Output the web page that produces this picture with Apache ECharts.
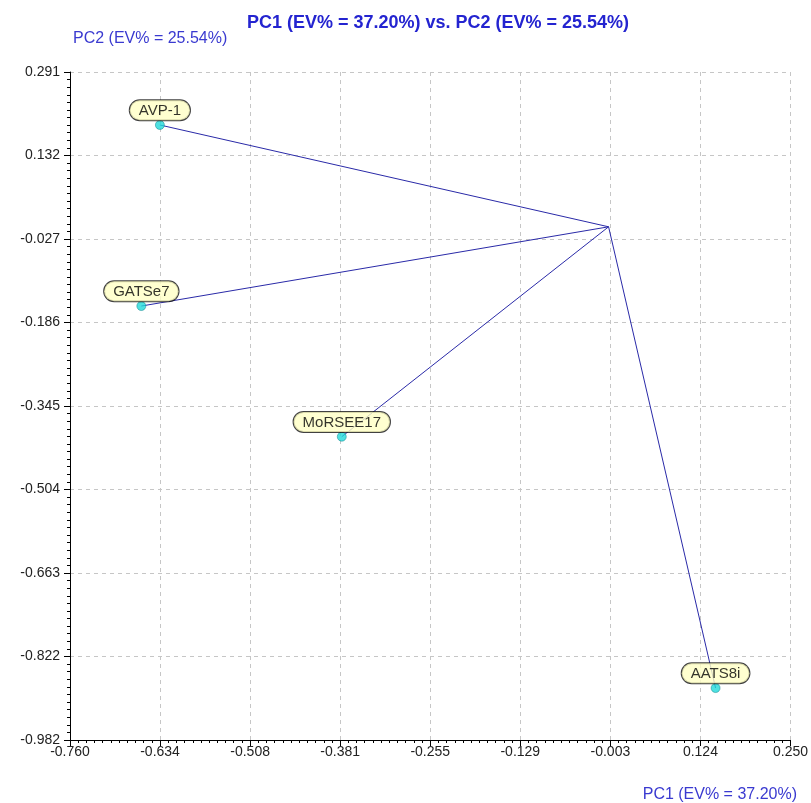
<!DOCTYPE html>
<html>
<head>
<meta charset="utf-8">
<script src="https://cdn.jsdelivr.net/npm/echarts@6/dist/echarts.min.js"></script>
<style>
  html, body { margin: 0; padding: 0; background: #fff; }
  #chart { width: 811px; height: 803px; }
</style>
</head>
<body>
<div id="chart"></div>
<script>
// PCA loadings: each variable drawn as a vector from the origin
const variables = ['AVP-1', 'GATSe7', 'MoRSEE17', 'AATS8i'];
const pc1 = [-0.634, -0.660, -0.379, 0.145];
const pc2 = [0.190, -0.155, -0.404, -0.883];
const origin = [-0.005, -0.004];

// Axis ranges and printed tick labels
const xMin = -0.760, xMax = 0.250;
const yMin = -0.982, yMax = 0.291;
const xTickLabels = ['-0.760', '-0.634', '-0.508', '-0.381', '-0.255', '-0.129', '-0.003', '0.124', '0.250'];
const yTickLabels = ['-0.982', '-0.822', '-0.663', '-0.504', '-0.345', '-0.186', '-0.027', '0.132', '0.291'];

const titleText = 'PC1 (EV% = 37.20%) vs. PC2 (EV% = 25.54%)';
const xName = 'PC1 (EV% = 37.20%)';
const yName = 'PC2 (EV% = 25.54%)';

const xStep = (xMax - xMin) / (xTickLabels.length - 1);
const yStep = (yMax - yMin) / (yTickLabels.length - 1);

const FONT = '"Liberation Sans", Arial, sans-serif';
const AXIS_BLUE = '#3a3ad0';

const vectorSeries = variables.map(function (name, i) {
  return {
    type: 'line',
    name: name,
    z: 1,
    silent: true,
    symbol: 'none',
    lineStyle: { color: '#2a2aa8', width: 1 },
    data: [[origin[0], origin[1]], [pc1[i], pc2[i]]]
  };
});

const pointSeries = {
  type: 'scatter',
  z: 5,
  symbol: 'circle',
  symbolSize: 9,
  itemStyle: { color: '#22dada', borderColor: '#0b7f86', borderWidth: 0.6 },
  label: {
    show: true,
    position: 'top',
    distance: 0,
    formatter: function (p) { return p.name; },
    fontFamily: FONT,
    fontSize: 15,
    color: '#000',
    backgroundColor: '#ffffc4',
    borderColor: '#111',
    borderWidth: 1,
    borderRadius: 11,
    padding: [3, 9, 2, 9]
  },
  data: variables.map(function (name, i) {
    return { name: name, value: [pc1[i], pc2[i]] };
  })
};

function axisCommon(labels, min, step) {
  return {
    type: 'value',
    axisLine: { show: true, onZero: false, lineStyle: { color: '#000', width: 1 } },
    axisTick: { show: true, inside: false, length: 6, lineStyle: { color: '#000' } },
    minorTick: { show: true, splitNumber: 11, length: 3, lineStyle: { color: '#000' } },
    splitLine: { show: true, lineStyle: { color: '#c6c6c6', type: [4, 4], width: 1 } },
    minorSplitLine: { show: false },
    axisLabel: {
      fontFamily: FONT,
      fontSize: 14,
      color: '#222',
      showMinLabel: true,
      showMaxLabel: true,
      hideOverlap: false,
      formatter: function (v) {
        const k = Math.round((v - min) / step);
        return labels[k] !== undefined ? labels[k] : '';
      }
    }
  };
}

const xAxis = Object.assign(axisCommon(xTickLabels, xMin, xStep), {
  min: xMin, max: xMax, interval: xStep
});
xAxis.axisLabel.margin = 5;

const yAxis = Object.assign(axisCommon(yTickLabels, yMin, yStep), {
  min: yMin, max: yMax, interval: yStep
});
yAxis.axisLabel.margin = 10;

const chart = echarts.init(document.getElementById('chart'), null, { renderer: 'canvas' });
chart.setOption({
  animation: false,
  backgroundColor: '#ffffff',
  title: [
    {
      text: titleText,
      left: 433, top: 9, textAlign: 'center',
      textStyle: { fontFamily: FONT, fontSize: 18, fontWeight: 'bold', color: '#2424d0' }
    },
    {
      text: yName,
      left: 68, top: 26,
      textStyle: { fontFamily: FONT, fontSize: 16, fontWeight: 'normal', color: AXIS_BLUE }
    },
    {
      text: xName,
      right: 9, top: 782,
      textStyle: { fontFamily: FONT, fontSize: 16, fontWeight: 'normal', color: AXIS_BLUE }
    }
  ],
  grid: { left: 70, right: 19, top: 72, bottom: 63, containLabel: false, show: false },
  xAxis: xAxis,
  yAxis: yAxis,
  series: vectorSeries.concat([pointSeries])
});
</script>
</body>
</html>
